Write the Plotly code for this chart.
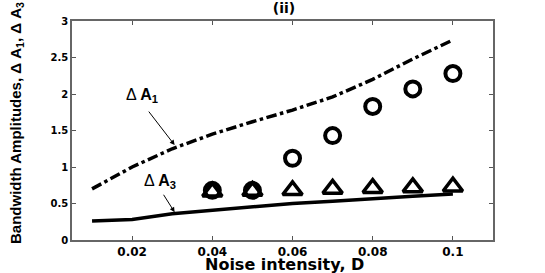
import plotly.graph_objects as go

D_line = [0.01, 0.02, 0.03, 0.04, 0.05, 0.06, 0.07, 0.08, 0.09, 0.1]
dA1_line = [0.70, 1.00, 1.25, 1.45, 1.62, 1.78, 1.96, 2.20, 2.48, 2.74]
dA3_line = [0.26, 0.28, 0.36, 0.41, 0.46, 0.50, 0.53, 0.57, 0.60, 0.63]

D_pts = [0.04, 0.05, 0.06, 0.07, 0.08, 0.09, 0.1]
dA1_pts = [0.68, 0.68, 1.12, 1.43, 1.83, 2.07, 2.28]
dA3_pts = [0.66, 0.67, 0.68, 0.70, 0.71, 0.72, 0.73]

x_ticks = [0.02, 0.04, 0.06, 0.08, 0.1]
x_tick_labels = ["0.02", "0.04", "0.06", "0.08", "0.1"]
y_ticks = [0, 0.5, 1, 1.5, 2, 2.5, 3]
y_tick_labels = ["0", "0.5", "1", "1.5", "2", "2.5", "3"]

BF = "DejaVu Sans"
LS = "Liberation Sans, Arial"

fig = go.Figure()
fig.add_trace(go.Scatter(x=D_line, y=dA1_line, mode="lines",
                         line=dict(color="black", width=3.5, dash="dashdot")))
fig.add_trace(go.Scatter(x=D_line, y=dA3_line, mode="lines",
                         line=dict(color="black", width=3.5)))
fig.add_trace(go.Scatter(x=D_pts, y=dA3_pts, mode="markers",
                         marker=dict(symbol="triangle-up-open", size=17, color="black",
                                     line=dict(width=3.5, color="black"))))
fig.add_trace(go.Scatter(x=D_pts, y=dA1_pts, mode="markers",
                         marker=dict(symbol="circle-open", size=15, color="black",
                                     line=dict(width=4, color="black"))))

fig.update_layout(
    width=545, height=273,
    margin=dict(l=72, r=52, t=21, b=33),
    paper_bgcolor="white", plot_bgcolor="white",
    showlegend=False,
    font=dict(family=BF, color="black"),
    xaxis=dict(range=[0.005, 0.11], tickvals=x_ticks,
               ticktext=["<b>%s</b>" % t for t in x_tick_labels],
               tickfont=dict(family=BF, size=12, color="black"),
               ticks="inside", ticklen=4, tickcolor="#555",
               showline=True, linecolor="#666", linewidth=1.5, mirror="ticks",
               showgrid=False, zeroline=False, automargin=False),
    yaxis=dict(range=[0, 3], tickvals=y_ticks,
               ticktext=["<b>%s</b>" % t for t in y_tick_labels],
               tickfont=dict(family=BF, size=10, color="black"),
               ticks="inside", ticklen=4, tickcolor="#555",
               showline=True, linecolor="#666", linewidth=1.5, mirror="ticks",
               showgrid=False, zeroline=False, automargin=False),
    title=dict(text="<b>(ii)</b>", x=284 / 545, xanchor="center",
               y=0.99, yanchor="top",
               font=dict(family=BF, size=14, color="black")),
)

# axis titles
fig.add_annotation(x=(284 - 72) / 421, y=-(264 - 240) / 219, xref="paper", yref="paper",
                   showarrow=False, xanchor="center", yanchor="middle",
                   text="<b>Noise intensity, D</b>",
                   font=dict(family=BF, size=16, color="black"))
fig.add_annotation(x=-(72 - 16) / 421, y=(240 - 123) / 219, xref="paper", yref="paper",
                   showarrow=False, xanchor="center", yanchor="middle", textangle=-90,
                   text="<b>Bandwidth Amplitudes, Δ A<sub>1</sub>, Δ A<sub>3</sub></b>",
                   font=dict(family=LS, size=15, color="black"))

# arrows
fig.add_annotation(x=0.0306, y=1.30, ax=-27, ay=-35, xref="x", yref="y",
                   text="", showarrow=True, arrowhead=2, arrowsize=1, arrowwidth=1,
                   arrowcolor="black")
fig.add_annotation(x=0.0306, y=0.38, ax=-12, ay=-19, xref="x", yref="y",
                   text="", showarrow=True, arrowhead=2, arrowsize=1, arrowwidth=1,
                   arrowcolor="black")
# labels
fig.add_annotation(x=0.0225, y=1.98, xref="x", yref="y", showarrow=False,
                   text="Δ <b>A</b><sub><b>1</b></sub>",
                   font=dict(family=LS, size=16, color="black"))
fig.add_annotation(x=0.027, y=0.80, xref="x", yref="y", showarrow=False,
                   text="Δ <b>A</b><sub><b>3</b></sub>",
                   font=dict(family=LS, size=16, color="black"))

fig.write_html("out.html", config={"displayModeBar": False},
               post_script="document.body.style.margin='0';document.body.style.overflow='hidden';")
